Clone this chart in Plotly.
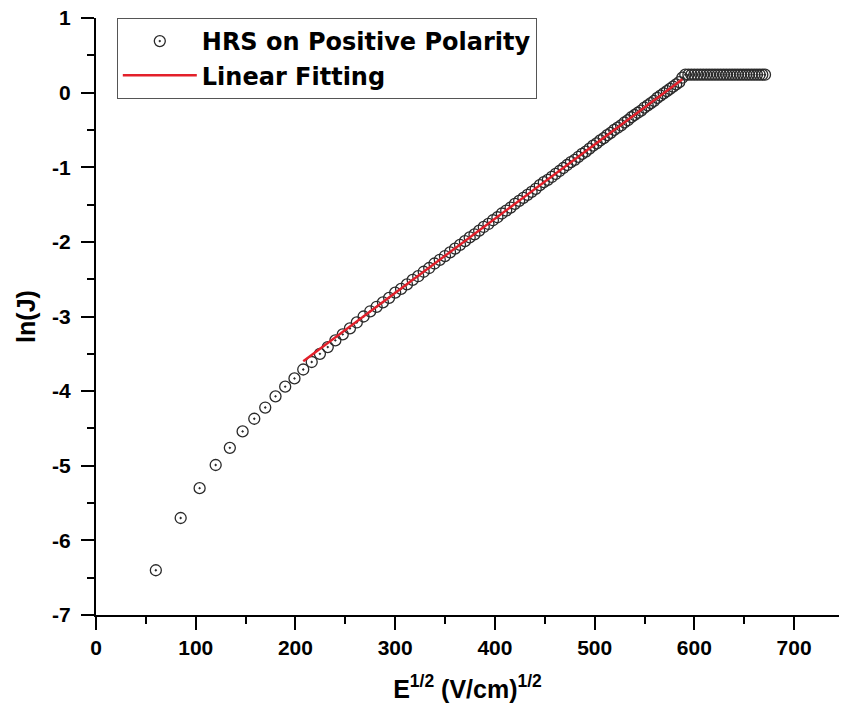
import plotly.graph_objects as go

# ---- data ----
e_sqrt = [60.0, 84.9, 103.9, 120.0, 134.2, 147.0, 158.7, 169.7, 180.0, 189.7,
          199.0, 207.8, 216.3, 224.5, 232.4, 240.0, 247.4, 254.6, 261.5, 268.3,
          275.0, 281.4, 287.7, 293.9, 300.0, 305.9, 311.8, 317.5, 323.1, 328.6,
          334.1, 339.4, 344.7, 349.9, 355.0, 360.0, 365.0, 369.9, 374.7, 379.5,
          384.2, 388.8, 393.5, 398.0, 402.5, 406.9, 411.3, 415.7, 420.0, 424.3,
          428.5, 432.7, 436.8, 440.9, 445.0, 449.0, 453.0, 457.0, 460.9, 464.8,
          468.6, 472.4, 476.2, 480.0, 483.7, 487.4, 491.1, 494.8, 498.4, 502.0,
          505.6, 509.1, 512.6, 516.1, 519.6, 523.1, 526.5, 529.9, 533.3, 536.7,
          540.0, 543.3, 546.6, 549.9, 553.2, 556.4, 559.6, 562.8, 566.0, 569.2,
          572.4, 575.5, 578.6, 581.7, 584.8, 587.9, 590.9, 594.0, 597.0, 600.0,
          603.0, 606.0, 608.9, 611.9, 614.8, 617.7, 620.6, 623.5, 626.4, 629.3,
          632.1, 635.0, 637.8, 640.6, 643.4, 646.2, 649.0, 651.8, 654.5, 657.3,
          660.0, 662.7, 665.4, 668.1, 670.8]

ln_j = [-6.40, -5.70, -5.30, -4.99, -4.76, -4.54, -4.37, -4.22, -4.07, -3.94,
        -3.83, -3.71, -3.61, -3.50, -3.41, -3.32, -3.24, -3.16, -3.08, -3.00,
        -2.93, -2.87, -2.81, -2.75, -2.68, -2.63, -2.57, -2.51, -2.46, -2.40,
        -2.35, -2.29, -2.24, -2.19, -2.14, -2.09, -2.04, -1.99, -1.94, -1.90,
        -1.85, -1.80, -1.76, -1.71, -1.67, -1.62, -1.58, -1.54, -1.49, -1.45,
        -1.41, -1.37, -1.33, -1.29, -1.24, -1.20, -1.17, -1.13, -1.09, -1.05,
        -1.01, -0.97, -0.93, -0.90, -0.86, -0.82, -0.79, -0.75, -0.71, -0.68,
        -0.64, -0.61, -0.57, -0.54, -0.50, -0.47, -0.44, -0.40, -0.37, -0.33,
        -0.30, -0.27, -0.24, -0.20, -0.17, -0.14, -0.11, -0.07, -0.04, -0.01,
        0.02, 0.05, 0.08, 0.11, 0.14, 0.20, 0.24, 0.24, 0.24, 0.24,
        0.24, 0.24, 0.24, 0.24, 0.24, 0.24, 0.24, 0.24, 0.24, 0.24,
        0.24, 0.24, 0.24, 0.24, 0.24, 0.24, 0.24, 0.24, 0.24, 0.24,
        0.24, 0.24, 0.24, 0.24, 0.24]

fit_x = [207.8, 588.0]
fit_y = [-3.60, 0.18]

x_tickvals = [0, 100, 200, 300, 400, 500, 600, 700]
x_ticktext = ["0", "100", "200", "300", "400", "500", "600", "700"]
y_tickvals = [1, 0, -1, -2, -3, -4, -5, -6, -7]
y_ticktext = ["1", "0", "-1", "-2", "-3", "-4", "-5", "-6", "-7"]

FONT = "Liberation Sans, Arial, sans-serif"
LEGEND_FONT = "DejaVu Sans, Liberation Sans, sans-serif"

fig = go.Figure()
fig.add_trace(go.Scatter(
    x=e_sqrt, y=ln_j, mode="markers", name="HRS on Positive Polarity",
    marker=dict(symbol="circle-open-dot", size=11, color="#2a2a2a",
                line=dict(width=1.3, color="#2a2a2a")),
))
fig.add_trace(go.Scatter(
    x=fit_x, y=fit_y, mode="lines", name="Linear Fitting",
    line=dict(color="#e3202a", width=2.4),
))

axis_common = dict(
    showline=True, linecolor="black", linewidth=2, mirror=False,
    ticks="outside", ticklen=13, tickwidth=2, tickcolor="black",
    showgrid=False, zeroline=False,
    tickfont=dict(family=FONT, size=21, color="black", weight="bold"),
)

fig.update_xaxes(
    range=[0, 745], tickvals=x_tickvals, ticktext=x_ticktext,
    minor=dict(ticks="outside", ticklen=7, tickwidth=2, tickcolor="black", dtick=50, tick0=0),
    title=dict(text="E<sup>1/2</sup> (V/cm)<sup>1/2</sup>",
               font=dict(family=FONT, size=25, color="black", weight="bold"), standoff=22),
    automargin=False,
    **axis_common,
)
fig.update_yaxes(
    range=[-7, 1], tickvals=y_tickvals, ticktext=y_ticktext,
    minor=dict(ticks="outside", ticklen=7, tickwidth=2, tickcolor="black", dtick=0.5, tick0=0),
    ticklabelstandoff=6,
    title=dict(text="ln(J)",
               font=dict(family=FONT, size=25, color="black", weight="bold"), standoff=9),
    automargin=False,
    **axis_common,
)

fig.update_layout(
    width=841, height=715,
    margin=dict(l=96, r=2, t=18, b=100),
    paper_bgcolor="white", plot_bgcolor="white",
    showlegend=True,
    legend=dict(
        x=0.028, y=1.0, xanchor="left", yanchor="top",
        bgcolor="white", bordercolor="#555555", borderwidth=1,
        font=dict(family=LEGEND_FONT, size=24, color="black", weight="bold"),
        itemwidth=74, tracegroupgap=0,
    ),
)

fig.write_html("out.html", config={"displayModeBar": False},
               post_script="document.body.style.margin='0px';")
